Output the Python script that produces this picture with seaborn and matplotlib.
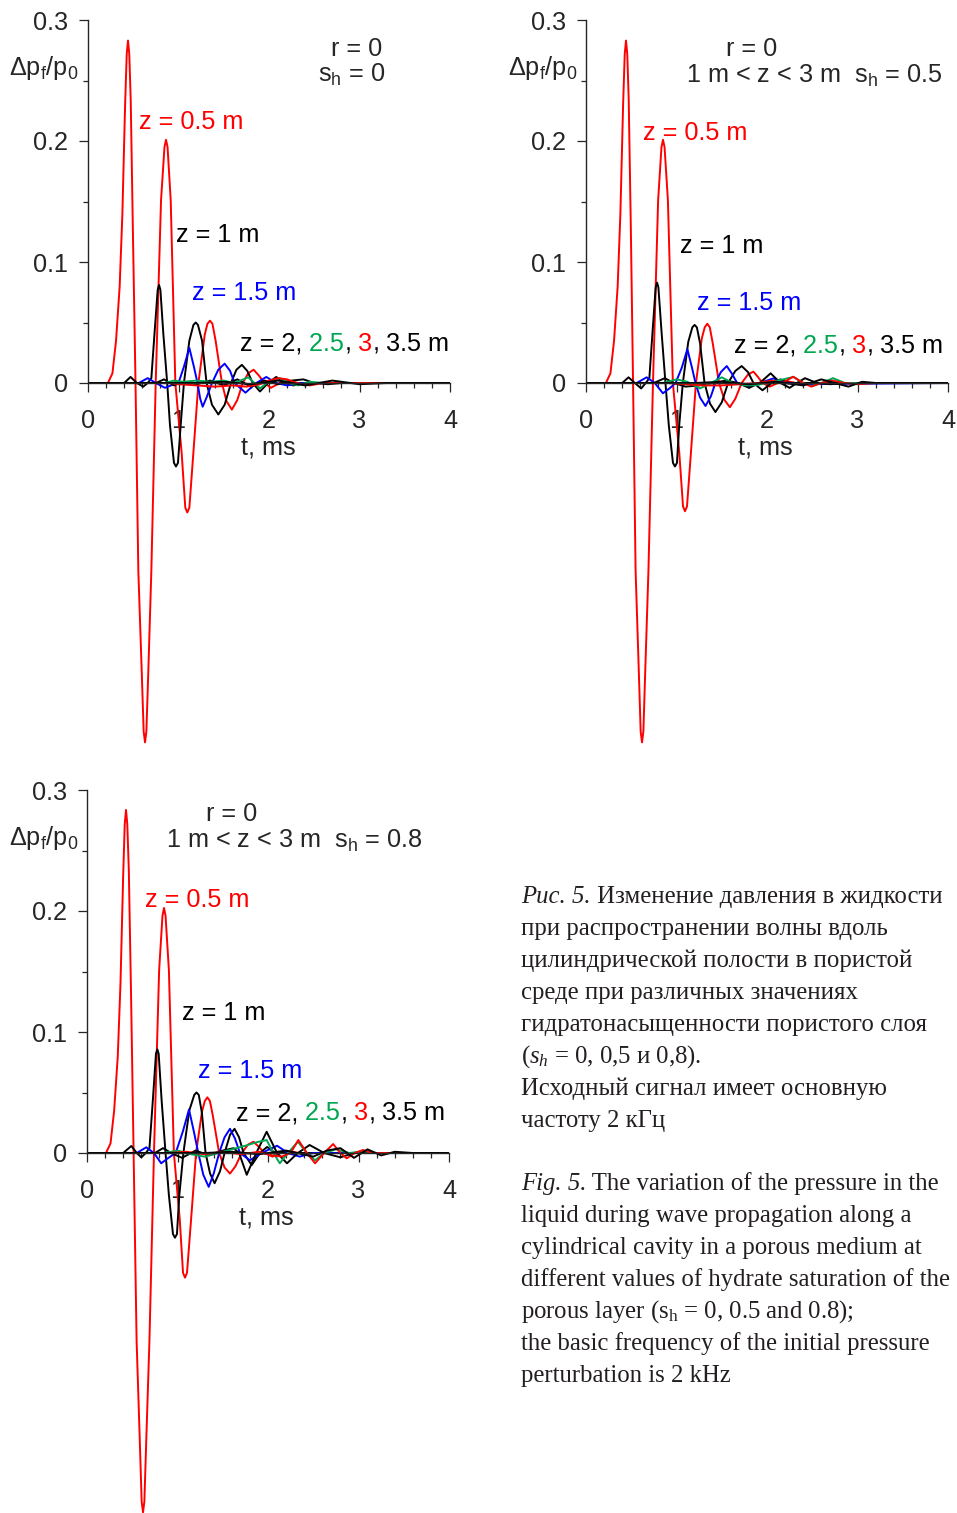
import matplotlib
matplotlib.use("Agg")
import matplotlib.pyplot as plt
import seaborn as sns
import pandas as pd

sns.set_style("ticks")
plt.rcParams["font.family"] = ["Liberation Sans", "DejaVu Sans"]
plt.rcParams["mathtext.fontset"] = "custom"
plt.rcParams["mathtext.rm"] = "Liberation Serif"
plt.rcParams["mathtext.it"] = "Liberation Serif:italic"
plt.rcParams["mathtext.default"] = "regular"

# ---------------- data (t in ms, dp/p0) ----------------
CURVE_NAMES = ["z=0.5", "z=1", "z=1.5", "z=2", "z=2.5", "z=3", "z=3.5"]
CURVE_COLORS = ["#ff0000", "#000000", "#0000ff", "#000000", "#00a651", "#ff0000", "#000000"]

X_MAJOR = [0, 1, 2, 3, 4]
X_LABELS = ["0", "1", "2", "3", "4"]
X_MINOR = [0.2, 0.4, 0.6, 0.8, 1.2, 1.4, 1.6, 1.8, 2.2, 2.4, 2.6, 2.8, 3.2, 3.4, 3.6, 3.8]
Y_MAJOR = [0, 0.1, 0.2, 0.3]
Y_LABELS = ["0", "0.1", "0.2", "0.3"]
Y_MINOR = [0.05, 0.15, 0.25]

# Panel 1: r = 0, s_h = 0
P1_T_Z05 = [0, 0.22, 0.27, 0.31, 0.35, 0.38, 0.41, 0.428, 0.442, 0.456, 0.472, 0.495, 0.525, 0.556, 0.593, 0.615, 0.63, 0.645, 0.667, 0.70, 0.748, 0.807, 0.845, 0.862, 0.879, 0.914, 0.965, 1.035, 1.075, 1.097, 1.12, 1.164, 1.22, 1.29, 1.32, 1.348, 1.375, 1.41, 1.48, 1.53, 1.59, 1.65, 1.71, 1.77, 1.83, 1.89, 1.95, 2.02, 2.12, 2.22, 2.32, 4.0]
P1_V_Z05 = [0, 0, 0.008, 0.035, 0.08, 0.14, 0.23, 0.272, 0.283, 0.272, 0.234, 0.13, 0, -0.155, -0.237, -0.288, -0.297, -0.288, -0.237, -0.155, 0, 0.151, 0.195, 0.201, 0.195, 0.151, 0, -0.058, -0.103, -0.107, -0.103, -0.058, 0, 0.04, 0.049, 0.0515, 0.049, 0.035, 0, -0.015, -0.022, -0.014, 0, 0.008, 0.011, 0.006, 0, -0.004, 0, 0.002, 0, 0]
P1_T_Z1 = [0, 0.40, 0.47, 0.54, 0.61, 0.66, 0.70, 0.735, 0.77, 0.785, 0.80, 0.832, 0.875, 0.906, 0.95, 0.972, 0.994, 1.024, 1.06, 1.12, 1.165, 1.19, 1.215, 1.26, 1.31, 1.37, 1.44, 1.51, 1.58, 1.64, 1.70, 1.76, 1.82, 1.90, 1.99, 2.08, 2.17, 2.27, 2.40, 4.0]
P1_V_Z1 = [0, 0, 0.005, 0, -0.003, 0, 0.004, 0.041, 0.077, 0.081, 0.077, 0.041, 0, -0.035, -0.066, -0.069, -0.066, -0.035, 0, 0.035, 0.048, 0.050, 0.048, 0.035, 0, -0.018, -0.026, -0.018, 0, 0.011, 0.015, 0.010, 0, -0.007, 0, 0.005, 0, -0.002, 0, 0]
P1_T_Z15 = [0, 0.56, 0.66, 0.75, 0.85, 0.95, 1.0, 1.06, 1.12, 1.17, 1.21, 1.24, 1.267, 1.31, 1.37, 1.44, 1.51, 1.57, 1.62, 1.74, 1.86, 1.97, 2.08, 2.20, 2.35, 4.0]
P1_V_Z15 = [0, 0, 0.004, 0, -0.004, -0.001, 0, 0.0135, 0.029, 0.0135, 0, -0.013, -0.0196, -0.012, 0, 0.011, 0.016, 0.010, 0, -0.008, 0, 0.005, 0, -0.002, 0, 0]
P1_T_Z2 = [0, 0.75, 0.84, 0.95, 1.05, 1.20, 1.35, 1.50, 1.65, 1.80, 1.95, 2.10, 2.25, 2.38, 2.50, 2.65, 2.80, 4.0]
P1_V_Z2 = [0, 0, 0.003, -0.002, 0.001, -0.001, 0.002, -0.002, 0.003, -0.003, 0.002, -0.001, 0.002, 0.003, 0, -0.001, 0, 0]
P1_T_Z25 = [0, 0.85, 0.95, 1.05, 1.20, 1.35, 1.50, 1.62, 1.77, 1.84, 1.90, 1.98, 2.12, 2.22, 2.32, 2.45, 2.60, 4.0]
P1_V_Z25 = [0, 0, 0.002, 0.001, 0.002, 0.001, 0.002, 0.0, 0.0047, 0, -0.0044, 0, 0.004, 0, -0.002, 0.001, 0, 0]
P1_T_Z3 = [0, 0.90, 1.00, 1.20, 1.40, 1.60, 1.75, 1.90, 2.00, 2.10, 2.20, 2.30, 2.45, 2.60, 4.0]
P1_V_Z3 = [0, 0, -0.001, -0.002, -0.003, -0.002, -0.003, -0.001, 0.002, 0.004, 0.003, 0, -0.002, 0, 0]
P1_T_Z35 = [0, 1.20, 1.50, 1.80, 2.10, 2.40, 2.70, 3.00, 3.30, 4.0]
P1_V_Z35 = [0, 0, 0.001, -0.001, 0.002, -0.002, 0.002, -0.001, 0, 0]

# Panel 2: r = 0, 1 m < z < 3 m, s_h = 0.5
P2_T_Z05 = [0, 0.22, 0.27, 0.31, 0.35, 0.38, 0.41, 0.428, 0.442, 0.456, 0.472, 0.495, 0.52, 0.548, 0.583, 0.604, 0.619, 0.634, 0.655, 0.69, 0.74, 0.797, 0.834, 0.851, 0.868, 0.905, 0.96, 1.03, 1.072, 1.094, 1.116, 1.16, 1.215, 1.28, 1.312, 1.34, 1.368, 1.40, 1.47, 1.53, 1.59, 1.65, 1.72, 1.79, 1.85, 1.90, 1.95, 2.03, 2.12, 2.22, 2.32, 4.0]
P2_V_Z05 = [0, 0, 0.008, 0.035, 0.08, 0.14, 0.23, 0.272, 0.283, 0.272, 0.234, 0.13, 0, -0.155, -0.237, -0.288, -0.297, -0.288, -0.237, -0.155, 0, 0.151, 0.195, 0.201, 0.195, 0.151, 0, -0.057, -0.102, -0.106, -0.102, -0.057, 0, 0.037, 0.046, 0.049, 0.046, 0.033, 0, -0.014, -0.020, -0.013, 0, 0.007, 0.0094, 0.005, 0, -0.003, 0, 0.0015, 0, 0]
P2_T_Z1 = [0, 0.40, 0.47, 0.54, 0.61, 0.66, 0.70, 0.735, 0.77, 0.785, 0.80, 0.835, 0.878, 0.915, 0.961, 0.983, 1.005, 1.03, 1.07, 1.13, 1.175, 1.20, 1.225, 1.26, 1.31, 1.37, 1.43, 1.50, 1.57, 1.65, 1.72, 1.79, 1.85, 1.95, 2.05, 2.15, 2.25, 2.40, 4.0]
P2_V_Z1 = [0, 0, 0.0047, 0, -0.0045, 0, 0.004, 0.042, 0.079, 0.083, 0.079, 0.042, 0, -0.035, -0.066, -0.069, -0.066, -0.035, 0, 0.034, 0.046, 0.048, 0.046, 0.033, 0, -0.017, -0.024, -0.016, 0, 0.010, 0.014, 0.009, 0, -0.006, 0, 0.003, 0, 0, 0]
P2_T_Z15 = [0, 0.56, 0.67, 0.76, 0.85, 0.93, 0.99, 1.06, 1.12, 1.17, 1.21, 1.26, 1.32, 1.38, 1.43, 1.49, 1.555, 1.61, 1.67, 1.79, 1.92, 2.07, 2.20, 2.35, 4.0]
P2_V_Z15 = [0, 0, 0.0047, 0, -0.0085, -0.004, 0, 0.013, 0.028, 0.013, 0, -0.012, -0.019, -0.011, 0, 0.009, 0.014, 0.008, 0, -0.003, 0, 0.0038, 0, -0.001, 0]
P2_T_Z2 = [0, 0.75, 0.87, 0.97, 1.10, 1.25, 1.40, 1.55, 1.68, 1.80, 1.92, 2.04, 2.15, 2.25, 2.33, 2.42, 2.55, 2.70, 2.85, 4.0]
P2_V_Z2 = [0, 0, 0.004, 0, -0.003, -0.002, 0, 0.002, 0, -0.004, 0, 0.008, 0, -0.004, 0, 0.004, 0, -0.001, 0, 0]
P2_T_Z25 = [0, 0.85, 1.00, 1.12, 1.26, 1.38, 1.50, 1.62, 1.76, 1.89, 2.05, 2.18, 2.29, 2.40, 2.49, 2.60, 2.73, 2.86, 3.00, 4.0]
P2_V_Z25 = [0, 0, 0.003, 0.001, -0.0045, 0, 0.0047, 0, -0.002, -0.0017, 0.001, 0.003, 0.005, 0, -0.0025, 0, 0.004, 0, 0, 0]
P2_T_Z3 = [0, 0.90, 1.10, 1.30, 1.50, 1.70, 1.90, 2.05, 2.17, 2.29, 2.40, 2.49, 2.60, 2.72, 2.85, 3.00, 3.20, 4.0]
P2_V_Z3 = [0, 0, -0.001, -0.002, -0.002, -0.001, 0, 0.002, 0, 0.0052, 0, -0.003, 0, 0.002, 0, -0.001, 0, 0]
P2_T_Z35 = [0, 1.20, 1.50, 1.80, 2.10, 2.40, 2.60, 2.75, 2.90, 3.05, 3.20, 3.40, 4.0]
P2_V_Z35 = [0, 0, 0.001, -0.001, 0.001, -0.002, 0.003, 0, -0.003, 0.001, 0, 0, 0]

# Panel 3: r = 0, 1 m < z < 3 m, s_h = 0.8
P3_T_Z05 = [0, 0.21, 0.26, 0.30, 0.34, 0.37, 0.40, 0.417, 0.431, 0.445, 0.462, 0.487, 0.515, 0.548, 0.583, 0.604, 0.619, 0.634, 0.655, 0.69, 0.74, 0.797, 0.834, 0.851, 0.868, 0.905, 0.96, 1.025, 1.061, 1.083, 1.105, 1.15, 1.205, 1.27, 1.302, 1.33, 1.358, 1.39, 1.46, 1.52, 1.58, 1.64, 1.71, 1.78, 1.84, 1.90, 1.96, 2.05, 2.14, 2.24, 2.34, 4.0]
P3_V_Z05 = [0, 0, 0.008, 0.035, 0.08, 0.14, 0.23, 0.272, 0.2835, 0.272, 0.234, 0.13, 0, -0.155, -0.237, -0.288, -0.297, -0.288, -0.237, -0.155, 0, 0.151, 0.196, 0.2025, 0.196, 0.151, 0, -0.055, -0.099, -0.103, -0.099, -0.055, 0, 0.034, 0.043, 0.046, 0.043, 0.031, 0, -0.012, -0.017, -0.011, 0, 0.007, 0.0093, 0.005, 0, -0.003, 0, 0.0015, 0, 0]
P3_T_Z1 = [0, 0.40, 0.49, 0.55, 0.60, 0.65, 0.69, 0.727, 0.762, 0.777, 0.792, 0.825, 0.868, 0.905, 0.95, 0.972, 0.994, 1.02, 1.065, 1.13, 1.185, 1.21, 1.235, 1.27, 1.31, 1.36, 1.41, 1.47, 1.52, 1.58, 1.63, 1.68, 1.73, 1.82, 1.91, 1.99, 2.08, 2.20, 4.0]
P3_V_Z1 = [0, 0, 0.0058, 0, -0.0036, 0, 0.004, 0.043, 0.082, 0.0857, 0.082, 0.043, 0, -0.035, -0.067, -0.070, -0.067, -0.035, 0, 0.035, 0.048, 0.050, 0.048, 0.033, 0, -0.017, -0.025, -0.015, 0, 0.015, 0.020, 0.013, 0, -0.010, 0, 0.005, 0, 0, 0]
P3_T_Z15 = [0, 0.55, 0.655, 0.74, 0.82, 0.90, 0.98, 1.06, 1.127, 1.18, 1.23, 1.285, 1.345, 1.40, 1.46, 1.52, 1.58, 1.635, 1.69, 1.80, 1.93, 2.10, 2.22, 2.35, 2.50, 4.0]
P3_V_Z15 = [0, 0, 0.0047, 0, -0.0085, -0.004, 0, 0.018, 0.036, 0.018, 0, -0.018, -0.028, -0.017, 0, 0.013, 0.020, 0.012, 0, -0.006, 0, 0.006, 0, -0.003, 0, 0]
P3_T_Z2 = [0, 0.75, 0.84, 0.93, 1.05, 1.20, 1.35, 1.50, 1.62, 1.68, 1.765, 1.87, 1.985, 2.10, 2.21, 2.33, 2.46, 2.62, 2.80, 2.95, 3.10, 4.0]
P3_V_Z2 = [0, 0, 0.004, 0, -0.004, 0.002, -0.002, 0.002, 0.004, 0, -0.018, 0, 0.0176, 0, -0.0085, 0, 0.0066, 0, -0.0036, 0, 0, 0]
P3_T_Z25 = [0, 0.85, 1.00, 1.15, 1.30, 1.45, 1.60, 1.75, 1.88, 1.985, 2.06, 2.13, 2.22, 2.33, 2.43, 2.52, 2.62, 2.75, 2.90, 3.05, 3.20, 4.0]
P3_V_Z25 = [0, 0, 0.002, -0.001, -0.003, 0.000, 0.003, 0.006, 0.009, 0.0107, 0, -0.0085, 0, 0.0093, 0, -0.006, 0, 0.003, 0, 0.0015, 0, 0]
P3_T_Z3 = [0, 0.90, 1.10, 1.30, 1.50, 1.70, 1.90, 2.05, 2.15, 2.25, 2.335, 2.43, 2.52, 2.62, 2.72, 2.80, 2.87, 2.96, 3.05, 3.15, 3.30, 4.0]
P3_V_Z3 = [0, 0, 0.001, -0.001, 0.001, -0.001, 0.001, -0.002, -0.003, 0, 0.0107, 0, -0.0085, 0, 0.0074, 0, -0.0044, 0, 0.0025, 0, 0, 0]
P3_T_Z35 = [0, 1.30, 1.60, 1.90, 2.20, 2.50, 2.65, 2.80, 2.95, 3.10, 3.25, 3.40, 3.60, 4.0]
P3_V_Z35 = [0, 0, 0.001, -0.001, 0.002, -0.003, 0.002, 0.004, -0.004, 0.003, -0.002, 0.001, 0, 0]

# ---------------- figure ----------------
W, H = 957, 1513
fig = plt.figure(figsize=(W / 100, H / 100), dpi=100)
renderer = fig.canvas.get_renderer()

PALETTE = dict(zip(CURVE_NAMES, CURVE_COLORS))
SANS = ["Liberation Sans", "DejaVu Sans"]
SERIF = ["Liberation Serif", "DejaVu Serif"]
FS = 18.2
CAP_FS = 17.8


def panel(x0, x4, ytop, yzero, series):
    ybot = 2 * yzero - ytop
    rect = [x0 / W, 1 - ybot / H, (x4 - x0) / W, (ybot - ytop) / H]
    ax = fig.add_axes(rect)
    frames = []
    for name, (tt, vv) in zip(CURVE_NAMES, series):
        frames.append(pd.DataFrame({"t": tt, "v": vv, "curve": name}))
    df = pd.concat(frames, ignore_index=True)
    sns.lineplot(data=df, x="t", y="v", hue="curve", hue_order=CURVE_NAMES,
                 palette=PALETTE, estimator=None, sort=False, linewidth=1.4,
                 legend=False, ax=ax)
    ax.set_xlim(0, 4)
    ax.set_ylim(-0.3, 0.3)
    ax.set_xlabel("")
    ax.set_ylabel("")
    ax.patch.set_alpha(0)
    for s in ["top", "right"]:
        ax.spines[s].set_visible(False)
    ax.spines["bottom"].set_position(("data", 0))
    ax.spines["bottom"].set_bounds(0, 4)
    ax.spines["left"].set_bounds(0, 0.3)
    for s in ["bottom", "left"]:
        ax.spines[s].set_linewidth(1.0)
        ax.spines[s].set_zorder(5)
    ax.set_xticks(X_MAJOR)
    ax.set_xticklabels(X_LABELS)
    ax.set_xticks(X_MINOR, minor=True)
    ax.set_yticks(Y_MAJOR)
    ax.set_yticklabels(Y_LABELS)
    ax.set_yticks(Y_MINOR, minor=True)
    ax.tick_params(which="major", length=6.5, width=0.9, direction="out", labelsize=FS)
    ax.tick_params(which="minor", length=3.6, width=0.9, direction="out")
    ax.tick_params(axis="x", which="major", pad=12)
    ax.tick_params(axis="y", which="major", pad=8)
    for lab in ax.get_xticklabels() + ax.get_yticklabels():
        lab.set_fontfamily(SANS)
    ax.set_axisbelow(True)
    return ax


def ftext(x, y, s, **kw):
    return fig.text(x / W, 1 - y / H, s, **kw)


def seq(x, y, pieces, **common):
    for s, kw in pieces:
        opts = dict(common)
        opts.update(kw)
        t = fig.text(x / W, 1 - y / H, s, ha="left", va="baseline", **opts)
        bb = t.get_window_extent(renderer)
        x = bb.x1


def z_labels(x05, y05, x1, y1, x15, y15, x2, y2):
    ftext(x05, y05, "z = 0.5 m", color="#ff0000", fontsize=FS, family=SANS, va="baseline")
    ftext(x1, y1, "z = 1 m", color="#000000", fontsize=FS, family=SANS, va="baseline")
    ftext(x15, y15, "z = 1.5 m", color="#0000ff", fontsize=FS, family=SANS, va="baseline")
    seq(x2, y2, [("z = 2,", {"color": "#000000"}), (" 2.5", {"color": "#00a651"}),
                 (",", {"color": "#000000"}), (" 3", {"color": "#ff0000"}),
                 (",", {"color": "#000000"}), (" 3.5 m", {"color": "#000000"})],
        fontsize=FS, family=SANS)


# panel 1
panel(88, 450, 20, 383, [(P1_T_Z05, P1_V_Z05), (P1_T_Z1, P1_V_Z1), (P1_T_Z15, P1_V_Z15),
                          (P1_T_Z2, P1_V_Z2), (P1_T_Z25, P1_V_Z25), (P1_T_Z3, P1_V_Z3),
                          (P1_T_Z35, P1_V_Z35)])
ftext(78, 75, r"Δ$p_f$/$p_0$", fontsize=FS, family=SANS, ha="right", va="baseline")
ftext(357, 56, "r = 0", fontsize=FS, family=SANS, ha="center", va="baseline")
ftext(352, 82, r"$s_h$ = 0", fontsize=FS, family=SANS, ha="center", va="baseline")
z_labels(139, 129, 176, 242, 192, 300, 240, 351)
ftext(268, 455, "t, ms", fontsize=FS, family=SANS, ha="center", va="baseline")

# panel 2
panel(586, 948, 20, 383, [(P2_T_Z05, P2_V_Z05), (P2_T_Z1, P2_V_Z1), (P2_T_Z15, P2_V_Z15),
                           (P2_T_Z2, P2_V_Z2), (P2_T_Z25, P2_V_Z25), (P2_T_Z3, P2_V_Z3),
                           (P2_T_Z35, P2_V_Z35)])
ftext(577, 75, r"Δ$p_f$/$p_0$", fontsize=FS, family=SANS, ha="right", va="baseline")
ftext(752, 56, "r = 0", fontsize=FS, family=SANS, ha="center", va="baseline")
ftext(686, 83, r"1 m < z < 3 m  $s_h$ = 0.5", fontsize=FS, family=SANS, ha="left", va="baseline")
z_labels(643, 140, 680, 253, 697, 310, 734, 353)
ftext(765, 455, "t, ms", fontsize=FS, family=SANS, ha="center", va="baseline")

# panel 3
panel(87, 449, 790, 1153, [(P3_T_Z05, P3_V_Z05), (P3_T_Z1, P3_V_Z1), (P3_T_Z15, P3_V_Z15),
                            (P3_T_Z2, P3_V_Z2), (P3_T_Z25, P3_V_Z25), (P3_T_Z3, P3_V_Z3),
                            (P3_T_Z35, P3_V_Z35)])
ftext(78, 845, r"Δ$p_f$/$p_0$", fontsize=FS, family=SANS, ha="right", va="baseline")
ftext(232, 821, "r = 0", fontsize=FS, family=SANS, ha="center", va="baseline")
ftext(166, 848, r"1 m < z < 3 m  $s_h$ = 0.8", fontsize=FS, family=SANS, ha="left", va="baseline")
z_labels(145, 907, 182, 1020, 198, 1078, 236, 1120)
ftext(266, 1225, "t, ms", fontsize=FS, family=SANS, ha="center", va="baseline")

# caption
CAP_COLOR = "#231f20"
IT = {"style": "italic"}
RG = {}
RU_LINES = [
    [("Рис. 5.", IT), (" Изменение давления в жидкости", RG)],
    [("при распространении волны вдоль", RG)],
    [("цилиндрической полости в пористой", RG)],
    [("среде при различных значениях", RG)],
    [("гидратонасыщенности пористого слоя", RG)],
    [(r"($\mathit{s}_{\mathit{h}}$ = 0, 0,5 и 0,8).", RG)],
    [("Исходный сигнал имеет основную", RG)],
    [("частоту 2 кГц", RG)],
]
EN_LINES = [
    [("Fig. 5.", IT), (" The variation of the pressure in the", RG)],
    [("liquid during wave propagation along a", RG)],
    [("cylindrical cavity in a porous medium at", RG)],
    [("different values of hydrate saturation of the", RG)],
    [(r"porous layer ($s_h$ = 0, 0.5 and 0.8);", RG)],
    [("the basic frequency of the initial pressure", RG)],
    [("perturbation is 2 kHz", RG)],
]
for i, line in enumerate(RU_LINES):
    seq(521, 903 + 32 * i, line, fontsize=CAP_FS, family=SERIF, color=CAP_COLOR)
for i, line in enumerate(EN_LINES):
    seq(521, 1190 + 32 * i, line, fontsize=CAP_FS, family=SERIF, color=CAP_COLOR)

fig.savefig("out.png", dpi=100)
